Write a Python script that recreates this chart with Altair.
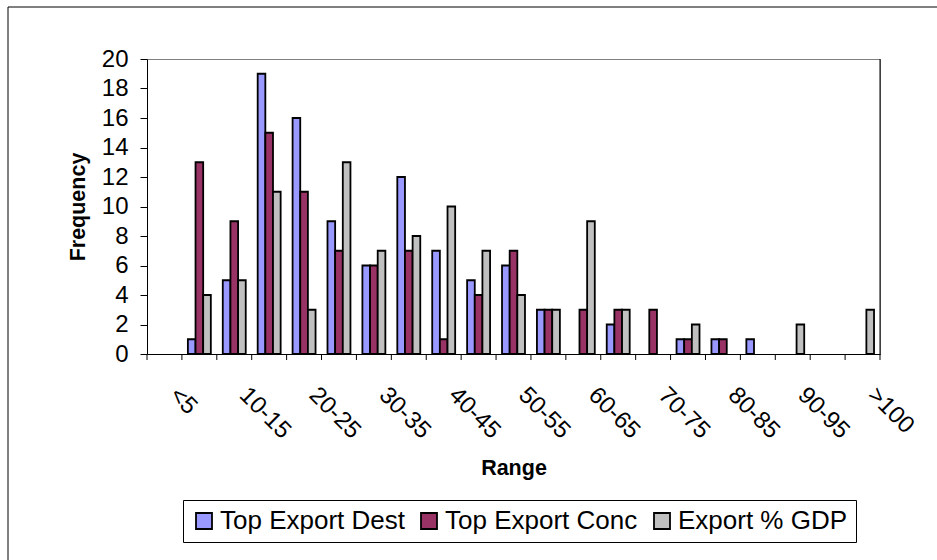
import json
import altair as alt
import pandas as pd

# Histogram bins (export share ranges, %)
ranges = ["<5", "5-10", "10-15", "15-20", "20-25", "25-30", "30-35", "35-40",
          "40-45", "45-50", "50-55", "55-60", "60-65", "65-70", "70-75",
          "75-80", "80-85", "85-90", "90-95", "95-100", ">100"]

series = ["Top Export Dest", "Top Export Conc", "Export % GDP"]
colors = ["#9999FF", "#993366", "#C0C0C0"]

# Frequency counts per bin for each series
top_export_dest = [0, 1, 5, 19, 16, 9, 6, 12, 7, 5, 6, 3, 0, 2, 0, 1, 1, 1, 0, 0, 0]
top_export_conc = [0, 13, 9, 15, 11, 7, 6, 7, 1, 4, 7, 3, 3, 3, 3, 1, 1, 0, 0, 0, 0]
export_pct_gdp = [0, 4, 5, 11, 3, 13, 7, 8, 10, 7, 4, 3, 9, 3, 0, 2, 0, 0, 2, 0, 3]

y_ticks = list(range(0, 21, 2))

rows = []
for name, counts in zip(series, [top_export_dest, top_export_conc, export_pct_gdp]):
    for rng, n in zip(ranges, counts):
        rows.append({"Range": rng, "Series": name, "Frequency": n})
df = pd.DataFrame(rows)
bins = pd.DataFrame({"Range": ranges})

FONT = "Liberation Sans"
W, H = 733, 295
PAD = {"left": 147, "top": 59, "right": 57, "bottom": 206}

x_scale = alt.Scale(domain=ranges, paddingInner=0, paddingOuter=0)

# label every other bin
label_expr = f"indexof({json.dumps(ranges)}, datum.value) % 2 == 0 ? datum.label : ''"

bars = alt.Chart(df).transform_filter("datum.Frequency > 0").mark_bar(
    stroke="black", strokeWidth=1.8
).encode(
    x=alt.X(
        "Range:N",
        sort=ranges,
        scale=x_scale,
        axis=alt.Axis(
            title="Range",
            labelAngle=45,
            labelAlign="left",
            labelBaseline="middle",
            labelExpr=label_expr,
            labelOverlap=False,
            labelFlush=False,
            ticks=False,
            labelOffset=9,
            labelPadding=37,
            labelFontSize=24,
            titleFontSize=21.5,
            titleFontWeight="bold",
            titlePadding=15,
            domainColor="black",
            labelColor="black",
            titleColor="black",
            grid=False,
        ),
    ),
    xOffset=alt.XOffset(
        "Series:N",
        sort=series,
        scale=alt.Scale(domain=series, paddingInner=0, paddingOuter=0.78),
    ),
    y=alt.Y(
        "Frequency:Q",
        scale=alt.Scale(domain=[0, 20], nice=False),
        axis=alt.Axis(
            title="Frequency",
            values=y_ticks,
            tickSize=7,
            labelPadding=12,
            labelFontSize=24,
            titleFontSize=21.5,
            titleFontWeight="bold",
            titlePadding=12,
            domainColor="black",
            tickColor="black",
            labelColor="black",
            titleColor="black",
            grid=False,
        ),
    ),
    color=alt.Color(
        "Series:N",
        sort=series,
        scale=alt.Scale(domain=series, range=colors),
        legend=alt.Legend(
            title=None,
            orient="none",
            legendX=36,
            legendY=441,
            direction="horizontal",
            symbolType="square",
            symbolSize=256,
            symbolStrokeColor="black",
            symbolStrokeWidth=1.8,
            symbolOpacity=1,
            labelFontSize=26,
            labelLimit=0,
            labelColor="black",
            labelOffset=3,
            columnPadding=11,
            padding=8,
            strokeColor="black",
            fillColor="white",
        ),
    ),
)

# tick marks on the bin boundaries
bin_ticks = alt.Chart(bins).mark_rule(color="black", strokeWidth=1).encode(
    x=alt.X("Range:N", sort=ranges, scale=x_scale, bandPosition=0),
    y=alt.value(H),
    y2=alt.value(H + 6),
)
end_tick = alt.Chart(bins.head(1)).mark_rule(color="black", strokeWidth=1).encode(
    x=alt.value(W), y=alt.value(H), y2=alt.value(H + 6)
)

frame = pd.DataFrame({"k": [0]})

# outer chart border: top and left edges
outer_top = alt.Chart(frame).mark_rule(color="black", strokeWidth=1).encode(
    x=alt.value(-139), x2=alt.value(W + PAD["right"]), y=alt.value(-52)
)
outer_left = alt.Chart(frame).mark_rule(color="black", strokeWidth=1).encode(
    x=alt.value(-139), y=alt.value(-52), y2=alt.value(H + PAD["bottom"])
)

# dark right edge of the plot area
right_edge = alt.Chart(frame).mark_rule(color="black", strokeWidth=1).encode(
    x=alt.value(W), y=alt.value(0), y2=alt.value(H)
)

chart = alt.layer(outer_top, outer_left, right_edge, bars, bin_ticks, end_tick).properties(
    width=W,
    height=H,
    autosize=alt.AutoSizeParams(type="none"),
    padding=PAD,
    background="white",
).configure(font=FONT).configure_view(stroke="#808080", strokeWidth=1)

chart.save("out.html", embed_options={"renderer": "svg", "actions": False})
